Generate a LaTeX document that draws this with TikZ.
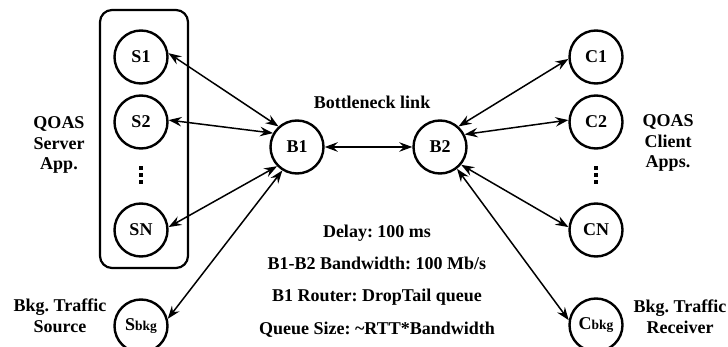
\documentclass[tikz,border=0pt]{standalone}
\usepackage{fontspec}
\setmainfont{Liberation Serif}
\usetikzlibrary{arrows.meta}
\begin{document}
\frenchspacing
\begin{tikzpicture}[x=1pt,y=-1pt,
  nd/.style={circle,draw,line width=2.4pt,minimum size=53pt,inner sep=0pt,font=\fontsize{18}{20}\selectfont\bfseries},
  lbl/.style={align=center,font=\fontsize{18}{20.5}\selectfont\bfseries},
  info/.style={align=center,font=\fontsize{18}{32.3}\selectfont\bfseries},
  tip/.style={Stealth[length=13pt,width=9.5pt,inset=4.5pt]},
  conn/.style={{Stealth[length=13pt,width=9.5pt,inset=4.5pt]}-{Stealth[length=13pt,width=9.5pt,inset=4.5pt]},line width=1.5pt},
  grp/.style={draw,line width=2.2pt,rounded corners=12pt},
  dot/.style={fill=black}
]
\useasboundingbox (0,0) rectangle (728,347);

% server group box
\draw[grp] (100,10) rectangle (188,268);

% nodes
\node[nd] (S1) at (141,57) {S1};
\node[nd] (S2) at (141,122) {S2};
\node[nd] (SN) at (141,230) {SN};
\node[nd] (Sb) at (141,326) {S{\fontsize{13.5}{13}\selectfont bkg}};
\node[nd] (B1) at (297,147) {B1};
\node[nd] (B2) at (440,147) {B2};
\node[nd] (C1) at (596,57) {C1};
\node[nd] (C2) at (596,122) {C2};
\node[nd] (CN) at (596,230) {CN};
\node[nd] (Cb) at (596,325) {C{\fontsize{13.5}{13}\selectfont bkg}};

% vertical dots
\foreach \yy in {166.5,173.5,180.5} {
  \fill[dot] (139.3,\yy) rectangle +(3.6,3.6);
  \fill[dot] (594.3,\yy) rectangle +(3.6,3.6);
}

% labels
\node[lbl] (lblS) at (59,145) {QOAS\\Server\\App.};
\node[lbl] (lblC) at (668,143) {QOAS\\Client\\Apps.};
\node[lbl] (lblSb) at (60,316) {Bkg. Traffic\\Source};
\node[lbl] (lblCb) at (680,317) {Bkg. Traffic\\Receiver};
\node[lbl] (bneck) at (372,102) {Bottleneck link};
\node[info] (info) at (377,281) {Delay: 100 ms\\B1-B2 Bandwidth: 100 Mb/s\\B1 Router: DropTail queue\\Queue Size: \textasciitilde RTT*Bandwidth};

% connectors
\draw[conn] (S1.8) -- (B1.132);
\draw[conn] (S2.4) -- (B1.150);
\draw[conn] (SN.6) -- (B1.224);
\draw[conn] (Sb.15) -- (B1.238);
\draw[conn] (B1.east) -- (B2.west);
\draw[conn] (B2.48) -- (C1.184);
\draw[conn] (B2.27) -- (C2.176);
\draw[conn] (B2.-40) -- (CN.174);
\draw[conn] (B2.-52) -- (Cb.170);
\end{tikzpicture}
\end{document}
